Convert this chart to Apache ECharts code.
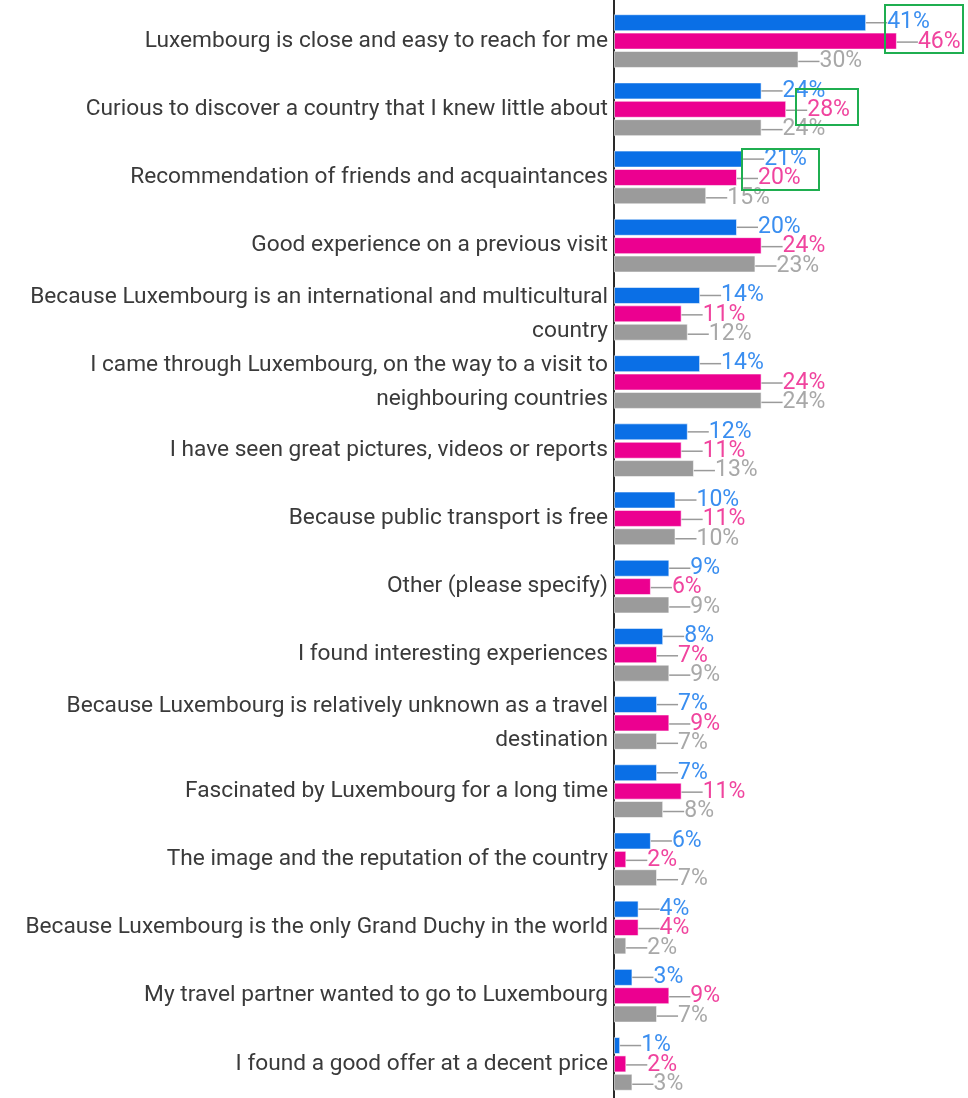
<!DOCTYPE html>
<html>
<head>
<meta charset="utf-8">
<script src="https://cdn.jsdelivr.net/npm/echarts@6/dist/echarts.min.js"></script>
<style>
  html, body { margin: 0; padding: 0; background: #fff; }
  #chart { width: 968px; height: 1098px; }
</style>
</head>
<body>
<div id="chart"></div>
<script>
// Reasons for visiting Luxembourg (share of respondents, %)
const categories = [
  'Luxembourg is close and easy to reach for me',
  'Curious to discover a country that I knew little about',
  'Recommendation of friends and acquaintances',
  'Good experience on a previous visit',
  'Because Luxembourg is an international and multicultural\ncountry',
  'I came through Luxembourg, on the way to a visit to\nneighbouring countries',
  'I have seen great pictures, videos or reports',
  'Because public transport is free',
  'Other (please specify)',
  'I found interesting experiences',
  'Because Luxembourg is relatively unknown as a travel\ndestination',
  'Fascinated by Luxembourg for a long time',
  'The image and the reputation of the country',
  'Because Luxembourg is the only Grand Duchy in the world',
  'My travel partner wanted to go to Luxembourg',
  'I found a good offer at a decent price'
];
const blueValues = [41, 24, 21, 20, 14, 14, 12, 10, 9, 8, 7, 7, 6, 4, 3, 1];
const pinkValues = [46, 28, 20, 24, 11, 24, 11, 11, 6, 7, 9, 11, 2, 4, 9, 2];
const grayValues = [30, 24, 15, 23, 12, 24, 13, 10, 9, 9, 7, 8, 7, 2, 7, 3];

const chart = echarts.init(document.getElementById('chart'), null, { renderer: 'canvas' });
const FONT = 'Roboto, "Noto Sans", sans-serif';
const GRID_TOP = 7;
const AXIS_X = 614;

function barSeries(name, data, barColor, labelColor, labelDy) {
  return {
    name: name,
    type: 'bar',
    data: data,
    barWidth: 17,
    barGap: '8%',
    itemStyle: { color: barColor, borderColor: 'rgba(255,255,255,0.55)', borderWidth: 1 },
    label: {
      show: true,
      position: 'right',
      distance: 2,
      formatter: '{c}%',
      color: labelColor,
      fontFamily: FONT,
      fontSize: 23
    },
    labelLayout: { dx: 19, dy: labelDy },
    labelLine: { show: true, lineStyle: { color: '#9a9a9a', width: 1.5 } },
    animation: false
  };
}

chart.setOption({
  backgroundColor: '#ffffff',
  grid: { left: AXIS_X, top: GRID_TOP, width: 307.5, height: 1093 },
  xAxis: {
    type: 'value', min: 0, max: 50,
    show: false
  },
  yAxis: {
    type: 'category',
    data: categories,
    inverse: true,
    axisLine: { show: true, lineStyle: { color: '#2a2a2a', width: 2 } },
    axisTick: { show: false },
    axisLabel: {
      color: '#3a3a3a',
      fontFamily: FONT,
      fontSize: 22.7,
      lineHeight: 34,
      margin: 6,
      padding: [5, 0, 0, 0]
    }
  },
  series: [
    barSeries('blue', blueValues, '#0a6fe6', '#3a8ef0', 0),
    barSeries('pink', pinkValues, '#ec0090', '#f0449e', 1),
    barSeries('gray', grayValues, '#9b9b9b', '#a8a8a8', 2)
  ],
  graphic: [
    // axis line continues up to the top edge
    { type: 'line', shape: { x1: AXIS_X, y1: 0, x2: AXIS_X, y2: GRID_TOP }, style: { stroke: '#2a2a2a', lineWidth: 2 } },
    // highlight frames around the leading answers
    { type: 'rect', shape: { x: 885, y: 5, width: 78, height: 48 }, style: { fill: 'none', stroke: '#1fae50', lineWidth: 2 }, z: 100 },
    { type: 'rect', shape: { x: 796, y: 89, width: 62, height: 36 }, style: { fill: 'none', stroke: '#1fae50', lineWidth: 2 }, z: 100 },
    { type: 'rect', shape: { x: 742, y: 149, width: 77, height: 41 }, style: { fill: 'none', stroke: '#1fae50', lineWidth: 2 }, z: 100 }
  ]
});
</script>
</body>
</html>
